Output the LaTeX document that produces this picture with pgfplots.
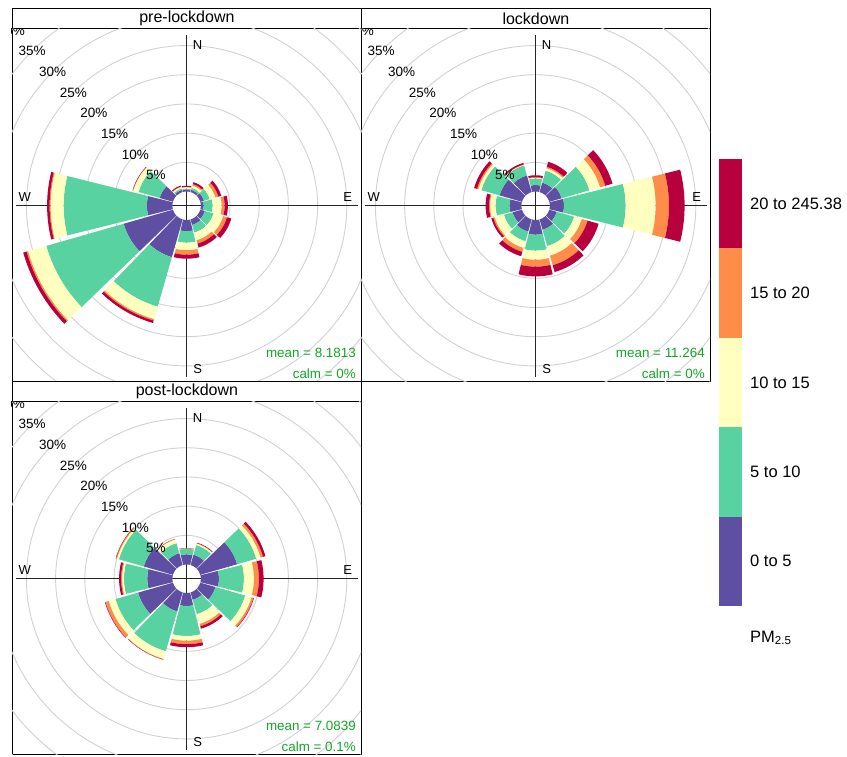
\documentclass[border=0pt]{standalone}
\usepackage{pgfplots}
\pgfplotsset{compat=1.18}
\usepackage{pgfplotstable}
\usepackage{fontspec}
\setmainfont{Liberation Sans}

\definecolor{cA}{RGB}{94,79,162}
\definecolor{cB}{RGB}{88,210,160}
\definecolor{cC}{RGB}{255,255,191}
\definecolor{cD}{RGB}{253,141,72}
\definecolor{cE}{RGB}{185,0,62}
\definecolor{meangreen}{RGB}{20,165,40}

% cumulative percentages per direction: 0-5, 5-10, 10-15, 15-20, 20-245.38
\pgfplotstableread{
dir c1 c2 c3 c4 c5
0 0.31 0.48 0.74 0.82 0.99
30 0.39 0.74 1.16 1.42 1.76
60 0.65 1.68 2.71 3.22 3.73
90 0.48 2.02 3.56 4.08 4.64
120 0.82 2.36 4.08 4.76 5.53
150 0.99 2.36 3.73 4.33 5.00
180 1.93 3.90 5.19 5.96 6.64
210 6.73 15.55 17.77 18.03 18.46
240 8.78 22.57 25.82 26.08 26.68
270 4.37 18.63 20.86 21.03 21.46
300 2.36 6.13 7.07 7.12 7.19
330 0.39 0.65 0.91 0.99 1.16
}\preTab

\pgfplotstableread{
dir c1 c2 c3 c4 c5
0 1.11 2.24 2.36 2.45 2.79
30 1.68 3.82 4.25 4.50 5.39
60 2.19 7.16 9.04 9.98 11.27
90 2.42 12.98 18.12 20.40 23.08
120 1.34 4.42 5.79 6.82 8.78
150 1.85 4.76 6.47 8.18 9.38
180 2.53 5.27 6.82 8.01 9.67
210 2.19 3.90 5.10 5.79 6.56
240 1.68 3.22 4.85 5.10 5.45
270 2.02 4.42 5.36 5.53 6.13
300 3.99 7.24 7.76 8.01 8.53
330 2.96 4.76 4.85 4.93 5.19
}\lockTab

\pgfplotstableread{
dir c1 c2 c3 c4 c5
0 1.73 2.71 2.76 2.79 2.83
30 1.85 3.56 3.82 3.90 3.99
60 6.56 9.98 10.75 11.18 11.61
90 3.10 7.38 9.09 9.95 10.75
120 2.71 8.01 9.13 9.47 9.56
150 1.34 3.90 5.62 6.04 6.47
180 2.24 7.38 8.18 8.78 9.30
210 3.39 10.50 11.87 11.95 12.00
240 6.22 10.24 11.44 12.04 12.12
270 4.30 8.30 8.61 8.78 9.13
300 5.19 9.64 9.98 10.15 10.21
330 2.11 3.90 4.59 4.64 4.67
}\postTab

\def\roff{2.43}

\newcommand\rosewedge[4]{%
  \pgfmathsetmacro\rin{#2+\roff}%
  \pgfmathsetmacro\rout{#3+\roff}%
  \gdef\wpts{}%
  \foreach \k in {0,...,14}{%
    \pgfmathsetmacro\ang{#1-14+2*\k}%
    \pgfmathsetmacro\px{\rout*sin(\ang)}%
    \pgfmathsetmacro\py{\rout*cos(\ang)}%
    \xdef\wpts{\wpts(\px,\py) }%
  }%
  \foreach \k in {0,...,14}{%
    \pgfmathsetmacro\ang{#1+14-2*\k}%
    \pgfmathsetmacro\px{\rin*sin(\ang)}%
    \pgfmathsetmacro\py{\rin*cos(\ang)}%
    \xdef\wpts{\wpts(\px,\py) }%
  }%
  \edef\tmp{\noexpand\addplot[draw=none,fill=#4,forget plot] coordinates {\wpts} -- cycle;}\tmp
}

\newcommand\drawrose[1]{%
  \pgfplotstablegetrowsof{#1}%
  \pgfmathtruncatemacro\nrows{\pgfplotsretval-1}%
  \pgfplotsforeachungrouped \i in {0,...,\nrows}{%
    \pgfplotstablegetelem{\i}{dir}\of{#1}\edef\rdir{\pgfplotsretval}%
    \pgfplotstablegetelem{\i}{c1}\of{#1}\edef\rA{\pgfplotsretval}%
    \pgfplotstablegetelem{\i}{c2}\of{#1}\edef\rB{\pgfplotsretval}%
    \pgfplotstablegetelem{\i}{c3}\of{#1}\edef\rC{\pgfplotsretval}%
    \pgfplotstablegetelem{\i}{c4}\of{#1}\edef\rD{\pgfplotsretval}%
    \pgfplotstablegetelem{\i}{c5}\of{#1}\edef\rE{\pgfplotsretval}%
    \rosewedge{\rdir}{0}{\rA}{cA}%
    \rosewedge{\rdir}{\rA}{\rB}{cB}%
    \rosewedge{\rdir}{\rB}{\rC}{cC}%
    \rosewedge{\rdir}{\rC}{\rD}{cD}%
    \rosewedge{\rdir}{\rD}{\rE}{cE}%
  }%
}

\newcommand\rosebase{%
  \pgfplotsinvokeforeach{1,...,8}{%
    \pgfmathsetmacro\rr{\roff+5*##1}%
    \edef\tmp{\noexpand\draw[ringline] (axis cs:0,0) circle[radius=\rr];}\tmp
  }%
  \draw[crossline] (axis cs:0,-29.3) -- (axis cs:0,29.3);
  \draw[crossline] (axis cs:-29.3,0) -- (axis cs:29.3,0);
}

\newcommand\roselabels{%
  \pgfplotsinvokeforeach{1,...,8}{%
    \pgfmathsetmacro\rr{(\roff+5*##1)/sqrt(2)}%
    \pgfmathtruncatemacro\pc{5*##1}%
    \edef\tmp{\noexpand\node[ringlab] at (axis cs:-\rr,\rr) {\pc\noexpand\%};}\tmp
  }%
  \node[dirlab] at (axis cs:1.88,27.6) {N};
  \node[dirlab] at (axis cs:1.88,-28.0) {S};
  \node[dirlab] at (axis cs:-27.7,1.54) {W};
  \node[dirlab] at (axis cs:27.6,1.54) {E};
}

\pgfplotsset{
  rosepanel/.style={
    width=349pt, height=353pt, scale only axis,
    xmin=-29.9, xmax=29.86, ymin=-30.1, ymax=30.35,
    xtick=\empty, ytick=\empty,
    axis line style={black, line width=0.8pt},
    anchor=north west,
  },
}
\tikzset{
  ringline/.style={draw=black!18, line width=0.9pt},
  crossline/.style={draw=black!85, line width=1.1pt},
  ringlab/.style={font=\fontsize{13.5}{14}\selectfont, inner sep=0pt},
  dirlab/.style={font=\fontsize{13}{14}\selectfont, inner sep=0pt},
  meanlab/.style={font=\fontsize{13.4}{14}\selectfont, text=meangreen, inner sep=0pt, anchor=east},
  strip/.style={draw=black, line width=0.8pt, minimum width=349pt, minimum height=19.5pt, anchor=south west, inner sep=0pt, font=\fontsize{16}{17}\selectfont},
  leglab/.style={font=\fontsize{16.5}{17}\selectfont, anchor=west, inner sep=0pt},
}

\begin{document}
\begin{tikzpicture}
\useasboundingbox (0pt,0pt) rectangle (847pt,-757pt);

% pre-lockdown
\node[strip] at (12pt,-28.5pt) {pre-lockdown};
\begin{axis}[rosepanel, at={(12pt,-28.5pt)}]
  \rosebase
  \drawrose{\preTab}
  \roselabels
  \node[meanlab] at (axis cs:29.0,-25.2) {mean = 8.1813};
  \node[meanlab] at (axis cs:29.0,-28.85) {calm = 0\%};
\end{axis}

% lockdown
\node[strip] at (361pt,-28.5pt) {lockdown};
\begin{axis}[rosepanel, at={(361pt,-28.5pt)}]
  \rosebase
  \drawrose{\lockTab}
  \roselabels
  \node[meanlab] at (axis cs:29.0,-25.2) {mean = 11.264};
  \node[meanlab] at (axis cs:29.0,-28.85) {calm = 0\%};
\end{axis}

% post-lockdown
\node[strip] at (12pt,-401.5pt) {post-lockdown};
\begin{axis}[rosepanel, at={(12pt,-401.5pt)}]
  \rosebase
  \drawrose{\postTab}
  \roselabels
  \node[meanlab] at (axis cs:29.0,-25.2) {mean = 7.0839};
  \node[meanlab] at (axis cs:29.0,-28.85) {calm = 0.1\%};
\end{axis}

% legend
\fill[cE] (719pt,-159pt) rectangle (742pt,-248.4pt);
\fill[cD] (719pt,-248.4pt) rectangle (742pt,-337.8pt);
\fill[cC] (719pt,-337.8pt) rectangle (742pt,-427.2pt);
\fill[cB] (719pt,-427.2pt) rectangle (742pt,-516.6pt);
\fill[cA] (719pt,-516.6pt) rectangle (742pt,-606pt);
\node[leglab] at (750pt,-203.7pt) {20 to 245.38};
\node[leglab] at (750pt,-293.1pt) {15 to 20};
\node[leglab] at (750pt,-382.5pt) {10 to 15};
\node[leglab] at (750pt,-471.9pt) {5 to 10};
\node[leglab] at (750pt,-561.3pt) {0 to 5};
\node[leglab] at (750pt,-638pt) {PM\textsubscript{2.5}};
\end{tikzpicture}
\end{document}
